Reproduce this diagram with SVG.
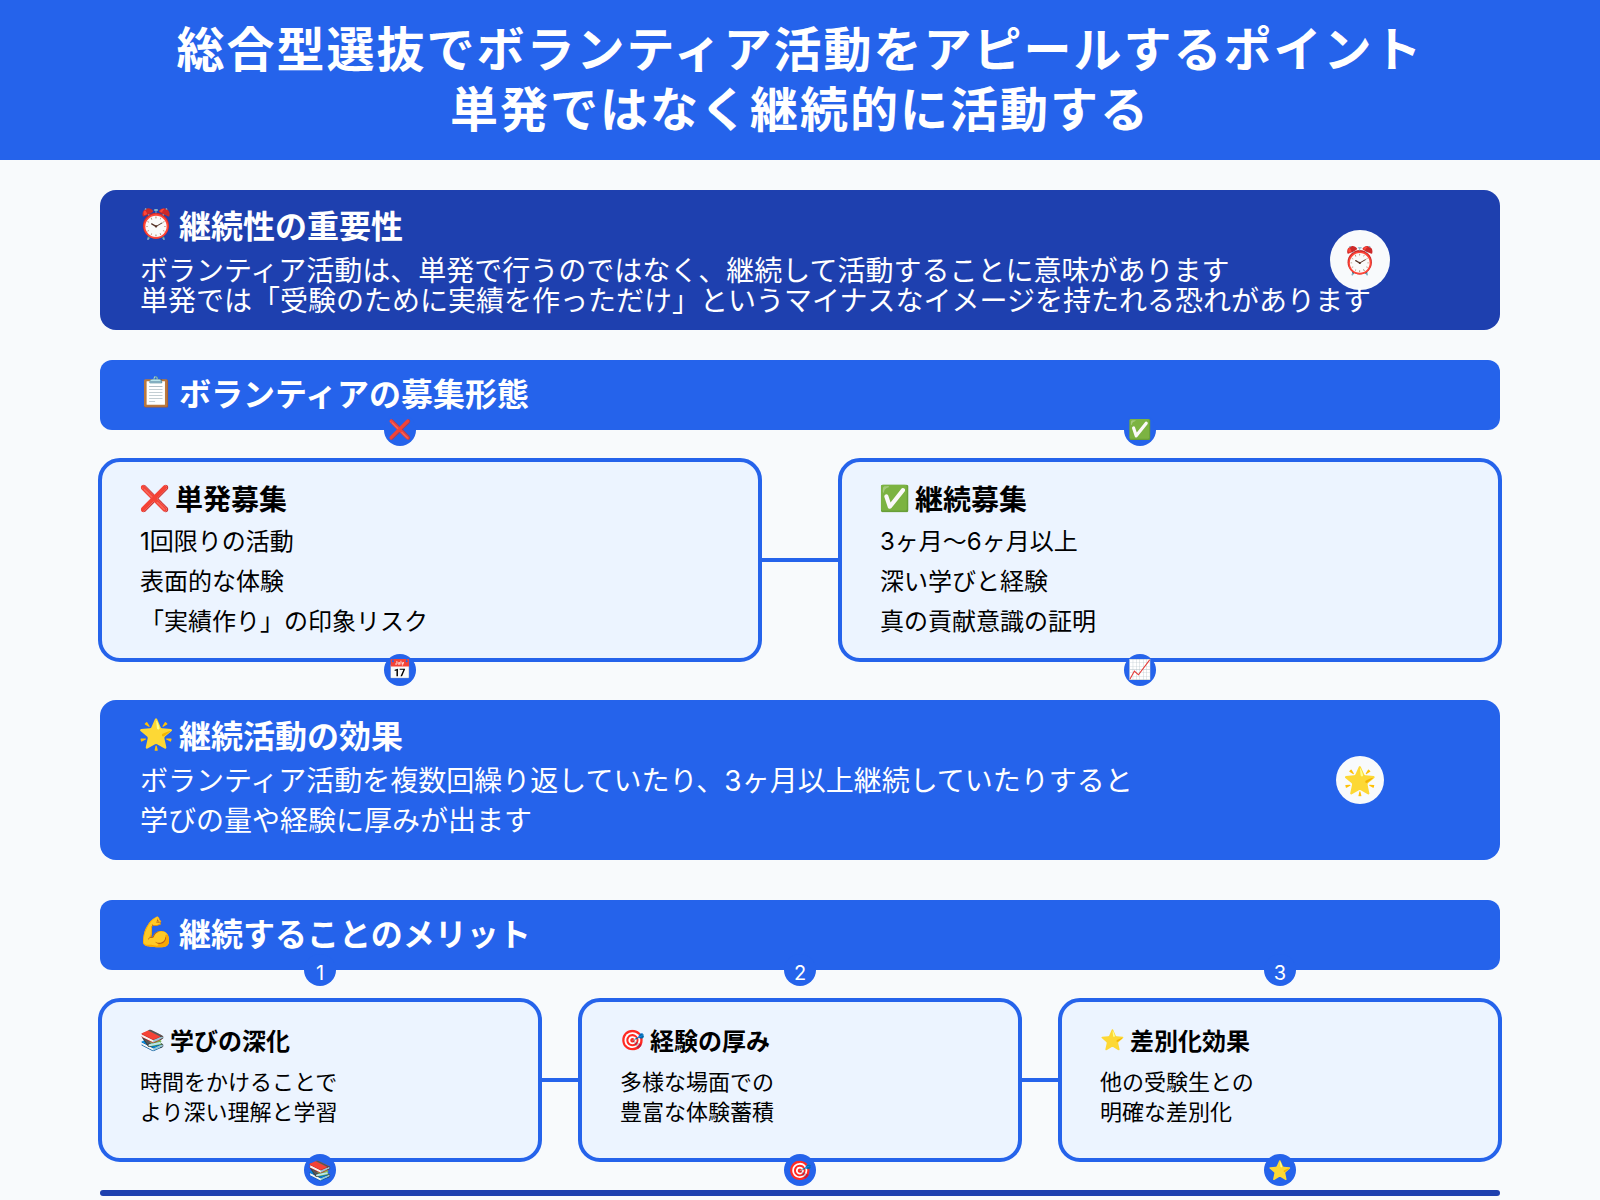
<svg xmlns="http://www.w3.org/2000/svg" width="1600" height="1200" viewBox="0 0 1600 1200">
<style>
text{font-family:"Inter","Noto Sans CJK JP","Noto Color Emoji",sans-serif}
.title{font-size:48px;font-weight:700;fill:#fff;text-anchor:middle;letter-spacing:2px}
.h{font-size:32px;font-weight:700;fill:#fff}
.b{font-size:28px;fill:#fff}
.ct{font-size:28px;font-weight:700;fill:#000}
.cb{font-size:24px;fill:#000}
.st{font-size:24px;font-weight:700;fill:#000}
.sb{font-size:22px;fill:#000}
.card{fill:#ecf4ff;stroke:#2563eb;stroke-width:4}
.sec{fill:#2563eb}
.dot{fill:#2563eb}
.di{font-size:19px;text-anchor:middle}
.num{font-size:20px;fill:#fff;text-anchor:middle}
.e1{font-size:29px}
.e2{font-size:25px}
.e3{font-size:20px}
.line{stroke:#2563eb;stroke-width:4;fill:none}
</style>
<rect width="1600" height="1200" fill="#f8fafc"/>
<g id="header">
<rect width="1600" height="160" fill="#2563eb"/>
<text class="title" x="800" y="67">総合型選抜でボランティア活動をアピールするポイント</text>
<text class="title" x="800" y="127">単発ではなく継続的に活動する</text>
</g>
<g id="connectors">
<line class="line" x1="760" y1="560" x2="840" y2="560"/>
<line class="line" x1="540" y1="1080" x2="580" y2="1080"/>
<line class="line" x1="1020" y1="1080" x2="1060" y2="1080"/>
</g>
<g id="importance">
<rect x="100" y="190" width="1400" height="140" rx="16" fill="#1e40af"/>
<circle cx="1360" cy="260" r="30" fill="#f8fafc"/>
<text x="1360" y="270" font-size="27" text-anchor="middle">⏰</text>
<text class="e1" x="138" y="234">⏰</text>
<text class="h" x="179" y="238">継続性の重要性</text>
<text class="b" x="140" y="281">ボランティア活動は、単発で行うのではなく、継続して活動することに意味があります</text>
<text class="b" x="140" y="311">単発では「受験のために実績を作っただけ」というマイナスなイメージを持たれる恐れがあります</text>
</g>
<g id="recruit-header">
<rect class="sec" x="100" y="360" width="1400" height="70" rx="12"/>
<text class="e1" x="138" y="402">📋</text>
<text class="h" x="179" y="406">ボランティアの募集形態</text>
</g>
<g id="single">
<rect class="card" x="100" y="460" width="660" height="200" rx="20"/>
<text class="e2" x="139" y="507">❌</text>
<text class="ct" x="175" y="510">単発募集</text>
<text class="cb" x="140" y="550">1回限りの活動</text>
<text class="cb" x="140" y="590">表面的な体験</text>
<text class="cb" x="140" y="630">「実績作り」の印象リスク</text>
<circle class="dot" cx="400" cy="430" r="16"/>
<text class="di" x="400" y="436">❌</text>
<circle class="dot" cx="400" cy="670" r="16"/>
<text class="di" x="400" y="676">📅</text>
</g>
<g id="continuous">
<rect class="card" x="840" y="460" width="660" height="200" rx="20"/>
<text class="e2" x="879" y="507">✅</text>
<text class="ct" x="915" y="510">継続募集</text>
<text class="cb" x="880" y="550">3ヶ月～6ヶ月以上</text>
<text class="cb" x="880" y="590">深い学びと経験</text>
<text class="cb" x="880" y="630">真の貢献意識の証明</text>
<circle class="dot" cx="1140" cy="430" r="16"/>
<text class="di" x="1140" y="436">✅</text>
<circle class="dot" cx="1140" cy="670" r="16"/>
<text class="di" x="1140" y="676">📈</text>
</g>
<g id="effect">
<rect class="sec" x="100" y="700" width="1400" height="160" rx="16"/>
<circle cx="1360" cy="780" r="24" fill="#f8fafc"/>
<text x="1360" y="790" font-size="27" text-anchor="middle">🌟</text>
<text class="e1" x="138" y="744">🌟</text>
<text class="h" x="179" y="748">継続活動の効果</text>
<text class="b" x="140" y="791">ボランティア活動を複数回繰り返していたり、3ヶ月以上継続していたりすると</text>
<text class="b" x="140" y="831">学びの量や経験に厚みが出ます</text>
</g>
<g id="merit-header">
<rect class="sec" x="100" y="900" width="1400" height="70" rx="12"/>
<text class="e1" x="138" y="942">💪</text>
<text class="h" x="179" y="946">継続することのメリット</text>
</g>
<g id="merit1">
<rect class="card" x="100" y="1000" width="440" height="160" rx="20"/>
<text class="e3" x="140" y="1047">📚</text>
<text class="st" x="170" y="1050">学びの深化</text>
<text class="sb" x="140" y="1090">時間をかけることで</text>
<text class="sb" x="140" y="1120">より深い理解と学習</text>
<circle class="dot" cx="320" cy="970" r="16"/>
<text class="num" x="320" y="980">1</text>
<circle class="dot" cx="320" cy="1170" r="16"/>
<text class="di" x="320" y="1177">📚</text>
</g>
<g id="merit2">
<rect class="card" x="580" y="1000" width="440" height="160" rx="20"/>
<text class="e3" x="620" y="1047">🎯</text>
<text class="st" x="650" y="1050">経験の厚み</text>
<text class="sb" x="620" y="1090">多様な場面での</text>
<text class="sb" x="620" y="1120">豊富な体験蓄積</text>
<circle class="dot" cx="800" cy="970" r="16"/>
<text class="num" x="800" y="980">2</text>
<circle class="dot" cx="800" cy="1170" r="16"/>
<text class="di" x="800" y="1177">🎯</text>
</g>
<g id="merit3">
<rect class="card" x="1060" y="1000" width="440" height="160" rx="20"/>
<text class="e3" x="1100" y="1047">⭐</text>
<text class="st" x="1130" y="1050">差別化効果</text>
<text class="sb" x="1100" y="1090">他の受験生との</text>
<text class="sb" x="1100" y="1120">明確な差別化</text>
<circle class="dot" cx="1280" cy="970" r="16"/>
<text class="num" x="1280" y="980">3</text>
<circle class="dot" cx="1280" cy="1170" r="16"/>
<text class="di" x="1280" y="1177">⭐</text>
</g>
<rect id="footer-bar" x="100" y="1190" width="1400" height="6" rx="3" fill="#1e40af"/>
</svg>
